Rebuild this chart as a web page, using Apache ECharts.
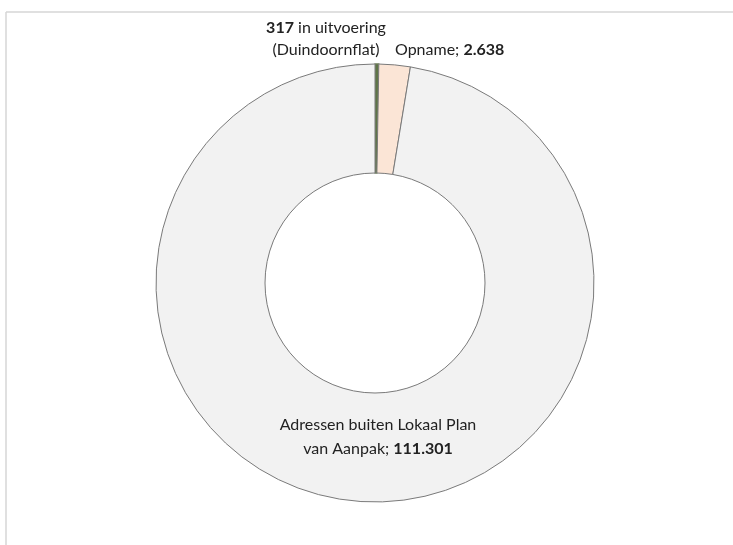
<!DOCTYPE html>
<html>
<head>
<meta charset="utf-8">
<script src="https://cdn.jsdelivr.net/npm/echarts@6/dist/echarts.min.js"></script>
<style>
html,body{margin:0;padding:0;background:#fff;}
#chart{width:733px;height:545px;}
</style>
</head>
<body>
<div id="chart"></div>
<script>
// Data
var categories = ['in uitvoering\n(Duindoornflat)', 'Opname', 'Adressen buiten Lokaal Plan\nvan Aanpak'];
var values = [317, 2638, 111301];
var colors = ['#5e7546', '#fbe5d6', '#f2f2f2'];
var borderColors = ['#6a7a58', '#7a7a7a', '#7a7a7a'];

function fmtNL(n) {
  return String(n).replace(/\B(?=(\d{3})+(?!\d))/g, '.');
}

var FONT = 'Lato, "Open Sans", sans-serif';
var labelPos = [
  {x: 326, y: 39, align: 'center', lh: 22},
  {x: 395, y: 50, align: 'left', lh: 22},
  {x: 378, y: 437, align: 'center', lh: 24}
];

var chart = echarts.init(document.getElementById('chart'), null, {renderer: 'canvas'});
var data = categories.map(function (c, i) {
  return {
    name: c, value: values[i],
    itemStyle: {color: colors[i], borderColor: borderColors[i], borderWidth: i === 0 ? 1.5 : 1},
    label: {lineHeight: labelPos[i].lh, rich: {b: {fontWeight: 'bold', fontSize: 16, color: '#222222', fontFamily: FONT, lineHeight: labelPos[i].lh}}}
  };
});

chart.setOption({
  animation: false,
  backgroundColor: '#ffffff',
  textStyle: {fontFamily: FONT},
  graphic: [
    {type: 'line', shape: {x1: 6, y1: 12, x2: 733, y2: 12}, style: {stroke: '#d6d6d6', lineWidth: 1.5}, silent: true},
    {type: 'line', shape: {x1: 6, y1: 12, x2: 6, y2: 545}, style: {stroke: '#d6d6d6', lineWidth: 1.5}, silent: true}
  ],
  series: [{
    type: 'pie',
    center: [375, 283],
    radius: [110, 219],
    startAngle: 90,
    clockwise: true,
    avoidLabelOverlap: false,
    emphasis: {disabled: true},
    label: {
      show: true,
      position: 'outside',
      color: '#222222',
      fontFamily: FONT,
      fontSize: 16,
      formatter: function (p) {
        var v = '{b|' + fmtNL(p.value) + '}';
        if (p.dataIndex === 0) {
          return v + ' ' + p.name;
        }
        return p.name + '; ' + v;
      }
    },
    labelLine: {show: false},
    labelLayout: function (params) {
      var p = labelPos[params.dataIndex];
      return {x: p.x, y: p.y, align: p.align, verticalAlign: 'middle', hideOverlap: false};
    },
    data: data
  }]
});
</script>
</body>
</html>
